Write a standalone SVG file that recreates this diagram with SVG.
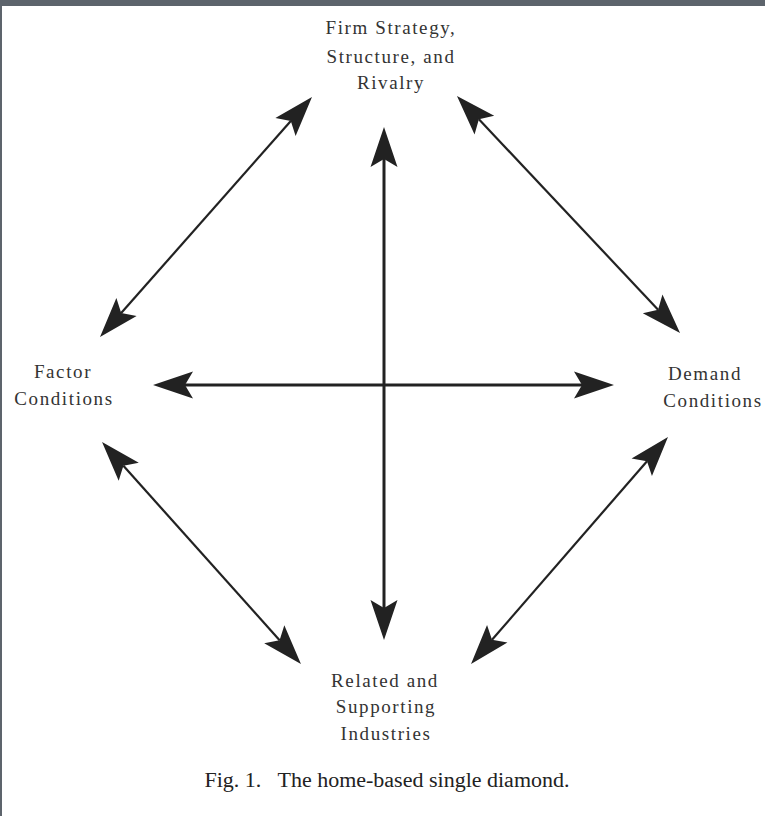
<svg xmlns="http://www.w3.org/2000/svg" width="765" height="816" viewBox="0 0 765 816">
<style>
.lbl{font-family:"Liberation Serif","Times New Roman",serif;font-size:19px;letter-spacing:1.6px;fill:#333;text-anchor:middle}
.cap{font-family:"Liberation Serif","Times New Roman",serif;font-size:20px;fill:#222;text-anchor:middle;white-space:pre}
.thick{stroke:#222;stroke-width:3;fill:none}
.thin{stroke:#222;stroke-width:2.2;fill:none}
</style>
<defs>
<marker id="ah" markerUnits="userSpaceOnUse" orient="auto-start-reverse" markerWidth="60" markerHeight="40" viewBox="-20 -20 60 40" refX="0" refY="0" style="overflow:visible">
<path d="M32,0 L-8,-13.5 L0,0 L-8,13.5 Z" fill="#222"/>
</marker>
</defs>
<rect x="0" y="0" width="765" height="816" fill="#fff"/>
<rect x="0" y="0" width="765" height="6" fill="#5d646c"/>
<rect x="0" y="0" width="2" height="816" fill="#5d646c"/>
<g id="connectors">
<line class="thin" x1="290.8" y1="121" x2="121.2" y2="313" marker-start="url(#ah)" marker-end="url(#ah)"/>
<line class="thin" x1="478.9" y1="119.3" x2="658.1" y2="309.7" marker-start="url(#ah)" marker-end="url(#ah)"/>
<line class="thick" x1="384" y1="159" x2="384" y2="608" marker-start="url(#ah)" marker-end="url(#ah)"/>
<line class="thick" x1="185" y1="385" x2="582" y2="385" marker-start="url(#ah)" marker-end="url(#ah)"/>
<line class="thin" x1="123.4" y1="465.8" x2="279.6" y2="640.2" marker-start="url(#ah)" marker-end="url(#ah)"/>
<line class="thin" x1="647" y1="461.2" x2="492" y2="639.8" marker-start="url(#ah)" marker-end="url(#ah)"/>
</g>
<g id="firm">
<text class="lbl" x="391" y="34">Firm Strategy,</text>
<text class="lbl" x="391" y="63">Structure, and</text>
<text class="lbl" x="391" y="89">Rivalry</text>
</g>
<g id="factor">
<text class="lbl" x="63" y="378">Factor</text>
<text class="lbl" x="64" y="405">Conditions</text>
</g>
<g id="demand">
<text class="lbl" x="705" y="380">Demand</text>
<text class="lbl" x="713" y="407">Conditions</text>
</g>
<g id="related">
<text class="lbl" x="385" y="687">Related and</text>
<text class="lbl" x="386" y="713">Supporting</text>
<text class="lbl" x="386" y="740">Industries</text>
</g>
<text class="cap" x="387" y="787" xml:space="preserve" textLength="365" lengthAdjust="spacingAndGlyphs">Fig. 1.   The home-based single diamond.</text>
</svg>
